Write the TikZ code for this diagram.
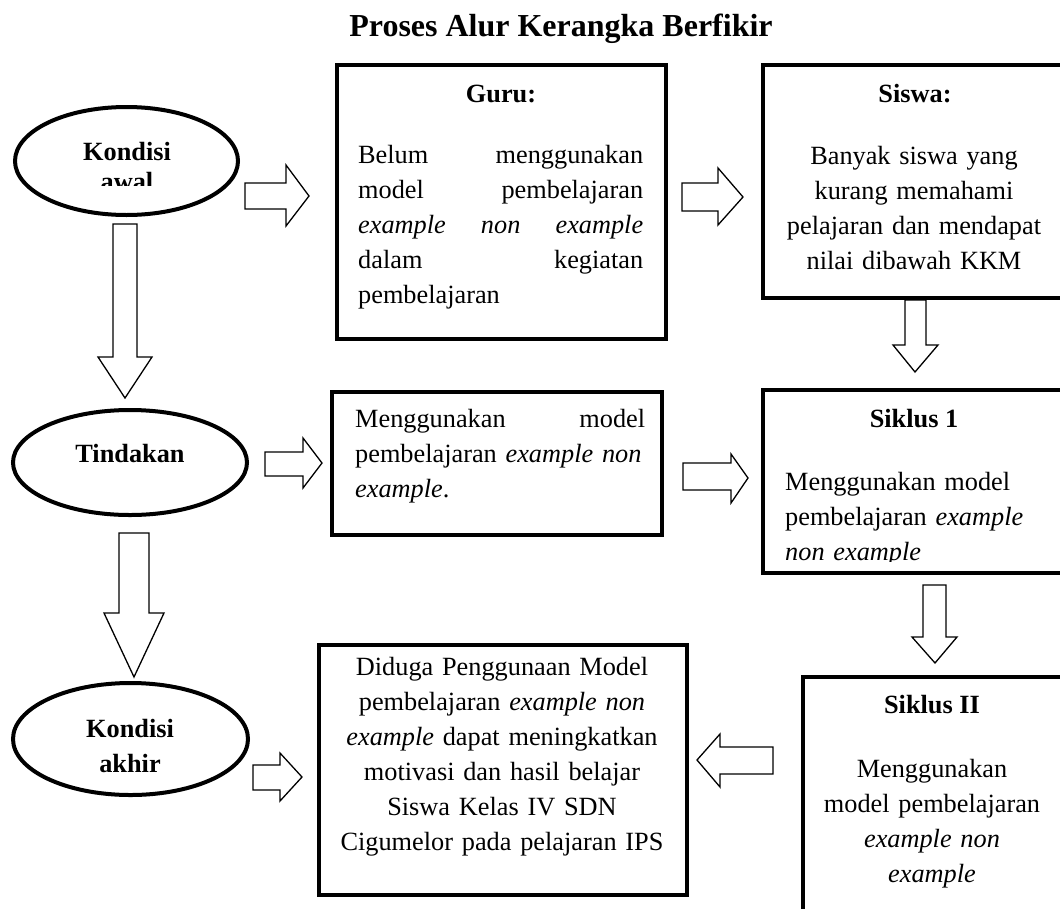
\documentclass[tikz,border=0pt]{standalone}
\usepackage{fontspec}
\setmainfont{Liberation Serif}
\usetikzlibrary{shapes.geometric}
\begin{document}
\begin{tikzpicture}[x=1pt,y=-1pt,
  txt/.style={font=\fontsize{26.3}{35}\selectfont, inner sep=0pt},
  bold/.style={inner sep=0pt, font=\fontsize{26.3}{35}\selectfont\bfseries},
  box/.style={draw, line width=4pt, rectangle, inner sep=0pt},
  oval/.style={draw, line width=4pt, ellipse, inner sep=0pt},
  blockarrow/.style={draw, line width=1.3pt, fill=white, line join=miter}]
\useasboundingbox (0,0) rectangle (1060,908);
\clip (0,0) rectangle (1060,908);

% title
\node[inner sep=0pt, font=\fontsize{32}{38}\selectfont\bfseries, anchor=base] (title) at (561,36) {Proses Alur Kerangka Berfikir};

% block arrows
\draw[blockarrow] (245,183)--(286,183)--(286,165)--(309,196)--(286,226)--(286,209)--(245,209)--cycle;
\draw[blockarrow] (682,183)--(718,183)--(718,168)--(743,197)--(718,225)--(718,211)--(682,211)--cycle;
\draw[blockarrow] (265,452)--(303,452)--(303,438)--(322,463)--(303,488)--(303,476)--(265,476)--cycle;
\draw[blockarrow] (683,463)--(731,463)--(731,454)--(748,478)--(731,503)--(731,490)--(683,490)--cycle;
\draw[blockarrow] (253,765)--(280,765)--(280,753)--(302,777)--(280,801)--(280,790)--(253,790)--cycle;
\draw[blockarrow] (773,747)--(720,747)--(720,734)--(697,760)--(720,787)--(720,774)--(773,774)--cycle;
\draw[blockarrow] (113,224)--(113,357)--(98,357)--(125,398)--(152,357)--(137,357)--(137,224)--cycle;
\draw[blockarrow] (119,533)--(119,613)--(104,613)--(134,677)--(164,613)--(149,613)--(149,533)--cycle;
\draw[blockarrow] (905,300)--(905,345)--(893,345)--(915,372)--(938,345)--(926,345)--(926,300)--cycle;
\draw[blockarrow] (923,585)--(923,637)--(912,637)--(935,663)--(957,637)--(946,637)--(946,585)--cycle;

% ellipses
\node[oval, minimum width=223pt, minimum height=108pt] (awal) at (126.5,161) {};
\node[oval, minimum width=234pt, minimum height=105pt] (tindakan) at (130,462.5) {};
\node[oval, minimum width=235pt, minimum height=112pt] (akhir) at (130.5,739) {};

\node[bold, anchor=base] (awalA) at (127,160) {Kondisi};
\begin{scope}
\clip (0,0) rectangle (1060,185);
\node[bold, anchor=base] (awalB) at (127,190) {awal};
\end{scope}
\node[bold, anchor=base] (tindA) at (130,462) {Tindakan};
\node[bold, anchor=base] (akhirA) at (130,737) {Kondisi};
\node[bold, anchor=base] (akhirB) at (130,772) {akhir};

% boxes
\node[box, minimum width=329pt, minimum height=274pt] (guru) at (501.5,202) {};
\node[box, minimum width=302pt, minimum height=233pt] (siswa) at (914,181.5) {};
\node[box, minimum width=330pt, minimum height=143pt] (meng) at (497,463.5) {};
\node[box, minimum width=302pt, minimum height=183pt] (siklus1) at (914,481.5) {};
\node[box, minimum width=368pt, minimum height=250pt] (diduga) at (503,770) {};
\node[box, minimum width=262pt, minimum height=238pt] (siklus2) at (934,796) {};

% guru text
\node[bold, anchor=base] (guruT) at (501,102) {Guru:};
\node[txt, anchor=base west, text width=285pt, align=left] (guruB) at (358,163)
  {Belum\hfill menggunakan\\ model\hfill pembelajaran\\ \textit{example}\hfill\textit{non}\hfill\textit{example}\\ dalam\hfill kegiatan\\ pembelajaran};

% siswa text
\node[bold, anchor=base] (siswaT) at (915,102) {Siswa:};
\node[txt, anchor=base, text width=300pt, align=center] (siswaB) at (914,164)
  {Banyak siswa yang\\ kurang memahami\\ pelajaran dan mendapat\\ nilai dibawah KKM};

% menggunakan text
\node[txt, anchor=base west, text width=290pt, align=left] (mengB) at (355,427)
  {Menggunakan\hfill model\\ pembelajaran \textit{example non}\\ \textit{example}.};

% siklus 1 text
\node[bold, anchor=base] (s1T) at (914,427) {Siklus 1};
\begin{scope}
\clip (0,0) rectangle (1060,561);
\node[txt, anchor=base west, text width=270pt, align=left] (s1B) at (785,490)
  {Menggunakan model\\ pembelajaran \textit{example}\\ \textit{non example}};
\end{scope}

% diduga text
\node[txt, anchor=base, text width=360pt, align=center] (didugaB) at (502,675)
  {Diduga Penggunaan Model\\ pembelajaran \textit{example non}\\ \textit{example} dapat meningkatkan\\ motivasi dan hasil belajar\\ Siswa Kelas IV SDN\\ Cigumelor pada pelajaran IPS};

% siklus II text
\node[bold, anchor=base] (s2T) at (932,713) {Siklus II};
\node[txt, anchor=base, text width=260pt, align=center] (s2B) at (932,777)
  {Menggunakan\\ model pembelajaran\\ \textit{example non}\\ \textit{example}};
\end{tikzpicture}
\end{document}
